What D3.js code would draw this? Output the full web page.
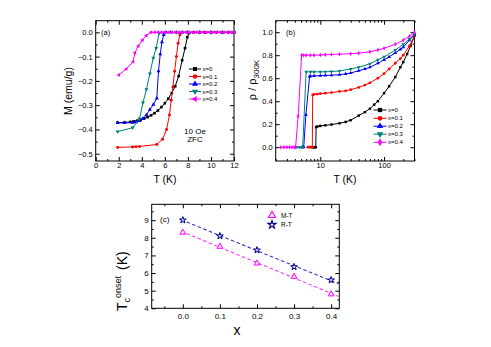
<!DOCTYPE html>
<html>
<head>
<meta charset="utf-8">
<script src="https://cdn.jsdelivr.net/npm/d3@7"></script>
<style>
  body { margin: 0; background: #fff; }
  svg { font-family: "Liberation Sans", Arial, sans-serif; }
</style>
</head>
<body>
<svg id="chart" width="491" height="347"></svg>
<script>
// series labels + colours shared by (a) and (b)
const seriesNames = ['x=0', 'x=0.1', 'x=0.2', 'x=0.3', 'x=0.4'];
const seriesColors = ['#000000', '#ff0000', '#0000ff', '#008080', '#ff00ff'];

// (a) M (emu/g) vs T (K), ZFC 10 Oe
const aT0 = [1.9, 2.5, 3.0, 3.3, 3.6, 3.9, 4.2, 4.5, 4.8, 5.1, 5.4, 5.7, 6.0, 6.3, 6.6, 6.9, 7.2, 7.5, 7.75, 7.95, 8.1, 8.5, 9, 9.5, 10, 10.5, 11, 11.5, 12];
const aM0 = [-0.372, -0.371, -0.369, -0.367, -0.364, -0.36, -0.355, -0.349, -0.342, -0.333, -0.322, -0.308, -0.292, -0.273, -0.25, -0.222, -0.18, -0.115, -0.065, -0.02, -0.003, 0, 0, 0, 0, 0, 0, 0, 0];
const aT1 = [1.9, 3.2, 3.5, 3.8, 5.3, 5.8, 6.15, 6.4, 6.55, 6.7, 6.85, 7.0, 7.15, 7.3, 7.5, 8, 8.5, 9, 9.5, 10, 10.5, 11, 11.5, 12];
const aM1 = [-0.474, -0.472, -0.471, -0.470, -0.462, -0.44, -0.40, -0.34, -0.28, -0.225, -0.16, -0.10, -0.045, -0.01, 0, 0, 0, 0, 0, 0, 0, 0, 0, 0];
const aT2 = [1.9, 2.5, 3.2, 3.5, 3.8, 4.1, 4.4, 4.7, 5.0, 5.3, 5.45, 5.6, 5.75, 5.9, 6.1, 6.5, 7, 7.5, 8, 9, 10, 11, 12];
const aM2 = [-0.373, -0.373, -0.372, -0.37, -0.365, -0.355, -0.34, -0.318, -0.298, -0.272, -0.16, -0.09, -0.04, -0.01, 0, 0, 0, 0, 0, 0, 0, 0, 0];
const aT3 = [1.9, 3.2, 3.8, 4.1, 4.4, 4.7, 5.0, 5.25, 5.5, 6, 7, 8, 9, 10, 11, 12];
const aM3 = [-0.409, -0.393, -0.356, -0.29, -0.235, -0.17, -0.105, -0.065, -0.003, 0, 0, 0, 0, 0, 0, 0];
const aT4 = [2.0, 2.65, 3.25, 3.4, 3.7, 4.05, 4.4, 4.8, 5.1, 5.4, 5.7, 6.0, 6.3, 6.6, 6.9, 7.2, 7.5, 7.8, 8.1, 8.4, 8.7, 9.0, 9.3, 9.6, 9.9, 10.2, 10.5, 10.8, 11.1, 11.4, 11.7, 12.0];
const aM4 = [-0.176, -0.151, -0.121, -0.084, -0.056, -0.032, -0.013, 0, 0, 0, 0, 0, 0, 0, 0, 0, 0, 0, 0, 0, 0, 0, 0, 0, 0, 0, 0, 0, 0, 0, 0, 0];

// (b) rho / rho_300K vs T (K), log T
const bT0 = [7.6, 7.9, 8.2, 8.5, 8.6, 9, 10, 12, 15, 20, 25, 30, 40, 50, 60, 70, 80, 100, 120, 150, 180, 200, 230, 260, 300];
const bR0 = [0, 0, 0, 0, 0.175, 0.18, 0.185, 0.19, 0.197, 0.208, 0.22, 0.235, 0.275, 0.305, 0.335, 0.37, 0.40, 0.47, 0.53, 0.61, 0.695, 0.74, 0.81, 0.88, 0.97];
const bT1 = [6.4, 6.8, 7.2, 7.5, 7.6, 8, 9, 10, 12, 15, 20, 25, 30, 40, 50, 60, 80, 100, 120, 150, 180, 200, 250, 300];
const bR1 = [0, 0, 0, 0, 0.455, 0.46, 0.462, 0.465, 0.47, 0.475, 0.485, 0.49, 0.5, 0.52, 0.54, 0.56, 0.6, 0.64, 0.68, 0.73, 0.77, 0.8, 0.88, 0.97];
const bT2 = [5.2, 5.5, 5.95, 6.8, 7, 8, 10, 12, 15, 20, 25, 30, 40, 50, 60, 80, 100, 120, 150, 180, 200, 250, 300];
const bR2 = [0, 0, 0.28, 0.615, 0.618, 0.62, 0.622, 0.624, 0.626, 0.63, 0.638, 0.645, 0.665, 0.68, 0.695, 0.73, 0.76, 0.785, 0.82, 0.85, 0.87, 0.93, 0.98];
const bT3 = [4.3, 4.7, 5.0, 5.3, 6.0, 7, 8, 10, 12, 15, 20, 30, 40, 60, 80, 100, 150, 200, 250, 300];
const bR3 = [0, 0, 0, 0, 0.655, 0.655, 0.655, 0.655, 0.656, 0.658, 0.663, 0.68, 0.695, 0.725, 0.76, 0.785, 0.845, 0.895, 0.94, 0.985];
const bT4 = [2.4, 2.7, 3.0, 3.3, 3.6, 3.9, 4.1, 4.5, 5.1, 5.5, 6, 7, 8, 10, 12, 15, 20, 30, 40, 60, 80, 100, 150, 200, 250, 300];
const bR4 = [0, 0, 0, 0, 0, 0, 0, 0.27, 0.80, 0.80, 0.80, 0.80, 0.80, 0.802, 0.804, 0.806, 0.809, 0.813, 0.818, 0.83, 0.845, 0.86, 0.895, 0.93, 0.965, 1.0];

// (c) Tc onset vs x
const cX = [0, 0.1, 0.2, 0.3, 0.4];
const cMT = [8.3, 7.5, 6.55, 5.8, 4.8];
const cRT = [9.0, 8.1, 7.3, 6.35, 5.6];

const svg = d3.select('#chart');
const font = '"Liberation Sans", Arial, sans-serif';

function drawAxes (x, y, o) {
    let [x0, x1] = x.range();
    let [yb, yt] = y.range();
    let g = svg.append('g');
    let sides = [
        [d3.axisBottom(x), `translate(0,${yb})`, o.xMajor, o.xMinor, o.xFmt, o.xPad],
        [d3.axisTop(x), `translate(0,${yt})`, o.xMajor, o.xMinor, null, 0],
        [d3.axisLeft(y), `translate(${x0},0)`, o.yMajor, o.yMinor, o.yFmt, o.yPad],
        [d3.axisRight(y), `translate(${x1},0)`, o.yMajor, o.yMinor, null, 0],
    ];
    sides.forEach(s => {
        // major ticks (inward)
        g.append('g').attr('transform', s[1])
            .call(s[0].tickValues(s[2]).tickSize(-4).tickPadding(s[5])
                .tickFormat(s[4] ? s[4] : () => ''))
            .call(a => a.select('.domain').remove())
            .attr('font-family', font).attr('font-size', o.fontSize);
        // minor ticks
        g.append('g').attr('transform', s[1])
            .call(s[0].tickValues(s[3]).tickSize(-2).tickFormat(() => ''))
            .call(a => a.select('.domain').remove());
    });
    g.append('rect')
        .attr('x', x0).attr('y', yt)
        .attr('width', x1 - x0).attr('height', yb - yt)
        .attr('fill', 'none').attr('stroke', '#000').attr('stroke-width', 1);
}

function symbolFor (i) {
    // square, circle, up tri, down tri, left tri
    return [d3.symbolSquare, d3.symbolCircle, d3.symbolTriangle, d3.symbolTriangle, d3.symbolTriangle][i];
}
let rotations = [0, 0, 0, 180, -90];

function drawSeries (x, y, Ts, Vs, i, size, sym, rot) {
    let pts = Ts.map((t, k) => [x(t), y(Vs[k])]);
    svg.append('path')
        .attr('d', d3.line()(pts))
        .attr('fill', 'none')
        .attr('stroke', seriesColors[i])
        .attr('stroke-width', 1);
    svg.append('g').selectAll('path')
        .data(pts)
        .join('path')
        .attr('transform', p => `translate(${p[0]},${p[1]}) rotate(${rot})`)
        .attr('d', d3.symbol().type(sym).size(size))
        .attr('fill', seriesColors[i]);
}

function drawLegend (x0, ys, lineLen, size, syms, rots) {
    seriesNames.forEach((name, i) => {
        let y = ys[i];
        svg.append('line')
            .attr('x1', x0).attr('x2', x0 + lineLen)
            .attr('y1', y).attr('y2', y)
            .attr('stroke', seriesColors[i]).attr('stroke-width', 1);
        svg.append('path')
            .attr('transform', `translate(${x0 + lineLen / 2},${y}) rotate(${rots[i]})`)
            .attr('d', d3.symbol().type(syms[i]).size(size))
            .attr('fill', seriesColors[i]);
        svg.append('text')
            .attr('x', x0 + lineLen + 1.5).attr('y', y + 2)
            .attr('font-size', 6).attr('font-family', font)
            .text(name);
    });
}

// ---------- (a) ----------
let xa = d3.scaleLinear().domain([0, 12]).range([95.7, 234]);
let ya = d3.scaleLinear().domain([-0.53, 0.048]).range([161, 20.7]);
drawAxes(xa, ya, {
    xMajor: [0, 2, 4, 6, 8, 10, 12], xMinor: [1, 3, 5, 7, 9, 11],
    yMajor: [0, -0.1, -0.2, -0.3, -0.4, -0.5], yMinor: [-0.05, -0.15, -0.25, -0.35, -0.45],
    xFmt: d3.format('d'), yFmt: d3.format('.1f'), xPad: 2, yPad: 3, fontSize: 7.5
});
let aTs = [aT0, aT1, aT2, aT3, aT4];
let aMs = [aM0, aM1, aM2, aM3, aM4];
aTs.forEach((T, i) => drawSeries(xa, ya, T, aMs[i], i, 7, symbolFor(i), rotations[i]));
drawLegend(189, [69, 76.5, 84, 91.5, 99], 12, 16,
    [0, 1, 2, 3, 4].map(symbolFor), rotations);

svg.append('text').attr('x', 101).attr('y', 35)
    .attr('font-size', 7.5).attr('font-family', font).text('(a)');
svg.append('text').attr('x', 195).attr('y', 133.5).attr('text-anchor', 'middle')
    .attr('font-size', 8).attr('font-family', font).text('10 Oe');
svg.append('text').attr('x', 195).attr('y', 141.8).attr('text-anchor', 'middle')
    .attr('font-size', 8).attr('font-family', font).text('ZFC');
svg.append('text')
    .attr('transform', 'translate(72,91) rotate(-90)')
    .attr('text-anchor', 'middle').attr('font-size', 10.5).attr('font-family', font)
    .text('M (emu/g)');
svg.append('text').attr('x', 165).attr('y', 183).attr('text-anchor', 'middle')
    .attr('font-size', 10.5).attr('font-family', font).text('T (K)');

// ---------- (b) ----------
let xb = d3.scaleLog().domain([2, 300]).range([275.7, 414.5]);
let yb = d3.scaleLinear().domain([-0.12, 1.1]).range([161, 20.7]);
drawAxes(xb, yb, {
    xMajor: [10, 100], xMinor: [2, 3, 4, 5, 6, 7, 8, 9, 20, 30, 40, 50, 60, 70, 80, 90, 200, 300],
    yMajor: [0, 0.2, 0.4, 0.6, 0.8, 1.0], yMinor: [0.1, 0.3, 0.5, 0.7, 0.9],
    xFmt: d3.format('d'), yFmt: d3.format('.1f'), xPad: 2, yPad: 3, fontSize: 7.5
});
let bTs = [bT0, bT1, bT2, bT3, bT4];
let bRs = [bR0, bR1, bR2, bR3, bR4];
let bSyms = [d3.symbolSquare, d3.symbolCircle, d3.symbolTriangle, d3.symbolTriangle, d3.symbolDiamond];
let bRots = [0, 0, 0, 180, 0];
bTs.forEach((T, i) => drawSeries(xb, yb, T, bRs[i], i, 6, bSyms[i], bRots[i]));
drawLegend(373.5, [110, 118.3, 126.2, 134.2, 142.3], 13, 18, bSyms, bRots);

svg.append('text').attr('x', 286).attr('y', 35)
    .attr('font-size', 7.5).attr('font-family', font).text('(b)');
let rhoLabel = svg.append('text')
    .attr('transform', 'translate(256,80) rotate(-90)')
    .attr('text-anchor', 'middle').attr('font-size', 11).attr('font-family', font);
rhoLabel.append('tspan').text('ρ / ρ');
rhoLabel.append('tspan').attr('dy', 3).attr('font-size', 8).text('300K');
svg.append('text').attr('x', 345).attr('y', 183).attr('text-anchor', 'middle')
    .attr('font-size', 10.5).attr('font-family', font).text('T (K)');

// ---------- (c) ----------
let xc = d3.scaleLinear().domain([-0.084, 0.422]).range([151.7, 339.3]);
let yc = d3.scaleLinear().domain([4, 9.9]).range([308.3, 204.3]);
drawAxes(xc, yc, {
    xMajor: [0, 0.1, 0.2, 0.3, 0.4], xMinor: [-0.05, 0.05, 0.15, 0.25, 0.35],
    yMajor: [4, 5, 6, 7, 8, 9], yMinor: [4.5, 5.5, 6.5, 7.5, 8.5, 9.5],
    xFmt: d3.format('.1f'), yFmt: d3.format('d'), xPad: 5, yPad: 3, fontSize: 8
});

// least squares fit lines through the points
function fit (xs, ys) {
    let mx = d3.mean(xs), my = d3.mean(ys);
    let sxy = d3.sum(xs, (v, k) => (v - mx) * (ys[k] - my));
    let sxx = d3.sum(xs, v => (v - mx) * (v - mx));
    let b = sxy / sxx;
    return v => my + b * (v - mx);
}
let fitMT = fit(cX, cMT), fitRT = fit(cX, cRT);
[[fitMT, '#ff33ff'], [fitRT, '#3333cc']].forEach(f => {
    svg.append('line')
        .attr('x1', xc(-0.005)).attr('y1', yc(f[0](-0.005)))
        .attr('x2', xc(0.42)).attr('y2', yc(f[0](0.42)))
        .attr('stroke', f[1]).attr('stroke-width', 1.1)
        .attr('stroke-dasharray', '3.5,2.5');
});
svg.append('g').selectAll('path').data(cX).join('path')
    .attr('transform', (v, k) => `translate(${xc(v)},${yc(cMT[k])})`)
    .attr('d', d3.symbol().type(d3.symbolTriangle).size(15))
    .attr('fill', '#ffe0ff').attr('stroke', '#ff00ff').attr('stroke-width', 1);
svg.append('g').selectAll('path').data(cX).join('path')
    .attr('transform', (v, k) => `translate(${xc(v)},${yc(cRT[k])})`)
    .attr('d', d3.symbol().type(d3.symbolStar).size(14))
    .attr('fill', '#c8c8ff').attr('stroke', '#000080').attr('stroke-width', 1);

// legend (c)
svg.append('path').attr('transform', 'translate(272,215.5)')
    .attr('d', d3.symbol().type(d3.symbolTriangle).size(22))
    .attr('fill', '#fff').attr('stroke', '#ff00ff').attr('stroke-width', 1.1);
svg.append('path').attr('transform', 'translate(272,224.7)')
    .attr('d', d3.symbol().type(d3.symbolStar).size(20))
    .attr('fill', '#c8c8ff').attr('stroke', '#000080').attr('stroke-width', 1.1);
svg.append('text').attr('x', 281).attr('y', 218)
    .attr('font-size', 6.5).attr('font-family', font).text('M-T');
svg.append('text').attr('x', 281).attr('y', 227)
    .attr('font-size', 6.5).attr('font-family', font).text('R-T');

svg.append('text').attr('x', 160).attr('y', 222)
    .attr('font-size', 8).attr('font-family', font).text('(c)');
let tcLabel = svg.append('text')
    .attr('transform', 'translate(127,311) rotate(-90)')
    .attr('font-size', 14).attr('font-family', font);
tcLabel.append('tspan').text('T');
tcLabel.append('tspan').attr('dy', 3).attr('font-size', 9).text('c');
tcLabel.append('tspan').attr('dy', -9).attr('font-size', 9).text('onset');
tcLabel.append('tspan').attr('dy', 6).attr('dx', 6).text('(K)');
svg.append('text').attr('x', 237).attr('y', 335).attr('text-anchor', 'middle')
    .attr('font-size', 14).attr('font-family', font).text('x');
</script>
</body>
</html>
